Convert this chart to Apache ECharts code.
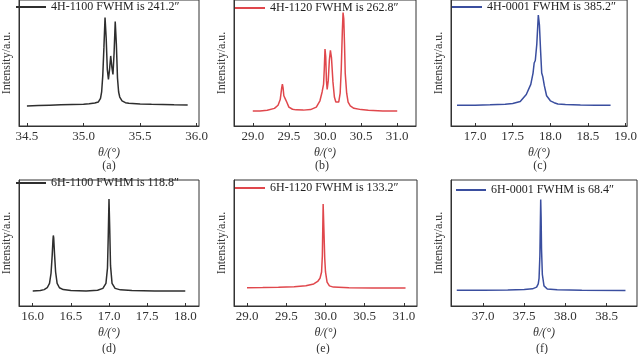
<!DOCTYPE html>
<html>
<head>
<meta charset="utf-8">
<script src="https://cdn.jsdelivr.net/npm/echarts@6/dist/echarts.min.js"></script>
<style>
  html, body { margin: 0; padding: 0; background: #fff; }
  #chart { width: 640px; height: 354px; }
</style>
</head>
<body>
<div id="chart"></div>
<script>
// legend names
const names = [
  '4H-1100 FWHM is 241.2″',
  '4H-1120 FWHM is 262.8″',
  '4H-0001 FWHM is 385.2″',
  '6H-1100 FWHM is 118.8″',
  '6H-1120 FWHM is 133.2″',
  '6H-0001 FWHM is 68.4″'
];
const panelLabels = ['(a)', '(b)', '(c)', '(d)', '(e)', '(f)'];

// tick labels per panel
const ticksA = [34.5, 35.0, 35.5, 36.0];
const ticksB = [29.0, 29.5, 30.0, 30.5, 31.0];
const ticksC = [17.0, 17.5, 18.0, 18.5, 19.0];
const ticksD = [16.0, 16.5, 17.0, 17.5, 18.0];
const ticksE = [29.0, 29.5, 30.0, 30.5, 31.0];
const ticksF = [37.0, 37.5, 38.0, 38.5];

// (a) 4H-1100
const thetaA = [34.50, 34.60, 34.70, 34.80, 34.90, 35.00, 35.05, 35.10, 35.13, 35.15, 35.16, 35.17, 35.18, 35.19, 35.20, 35.21, 35.22, 35.23, 35.24, 35.25, 35.26, 35.27, 35.28, 35.29, 35.30, 35.31, 35.32, 35.34, 35.37, 35.40, 35.50, 35.60, 35.70, 35.80, 35.92];
const intA   = [15.9, 16.2, 16.5, 16.8, 17.0, 17.2, 17.6, 18.2, 19.0, 22.0, 27.0, 40.0, 62.0, 86.0, 70.0, 45.0, 37.0, 45.0, 55.6, 47.0, 41.0, 58.0, 83.0, 65.0, 38.0, 27.0, 23.0, 20.0, 18.5, 18.0, 17.5, 17.2, 17.0, 16.8, 16.7];

// (b) 4H-1120
const thetaB = [29.00, 29.10, 29.20, 29.30, 29.35, 29.38, 29.40, 29.41, 29.42, 29.43, 29.45, 29.47, 29.50, 29.55, 29.60, 29.70, 29.80, 29.88, 29.93, 29.96, 29.98, 29.99, 30.00, 30.01, 30.02, 30.03, 30.045, 30.06, 30.075, 30.09, 30.11, 30.13, 30.15, 30.17, 30.19, 30.21, 30.225, 30.24, 30.25, 30.26, 30.27, 30.28, 30.30, 30.32, 30.35, 30.40, 30.50, 30.60, 30.80, 31.00];
const intB   = [12.0, 12.0, 12.5, 14.0, 16.5, 21.0, 30.0, 33.3, 30.0, 24.0, 21.5, 19.0, 15.0, 13.3, 12.8, 12.6, 13.0, 15.0, 20.0, 27.0, 33.0, 45.0, 61.0, 55.0, 36.0, 29.0, 36.0, 52.0, 60.0, 54.0, 35.0, 23.0, 19.0, 18.0, 19.0, 26.0, 45.0, 75.0, 90.0, 85.0, 65.0, 42.0, 26.0, 19.0, 16.0, 14.0, 13.0, 12.5, 12.0, 12.0];

// (c) 4H-0001
const thetaC = [16.76, 16.90, 17.00, 17.20, 17.40, 17.50, 17.60, 17.68, 17.74, 17.77, 17.785, 17.80, 17.82, 17.84, 17.855, 17.87, 17.885, 17.90, 17.92, 17.95, 18.00, 18.05, 18.10, 18.20, 18.40, 18.60, 18.80];
const intC   = [16.5, 16.5, 16.5, 16.8, 17.2, 17.8, 19.5, 25.0, 33.0, 42.0, 50.0, 52.0, 65.0, 88.0, 80.0, 60.0, 42.0, 39.0, 32.0, 24.0, 20.0, 18.5, 17.5, 17.0, 16.7, 16.5, 16.5];

// (d) 6H-1100
const thetaD = [16.00, 16.10, 16.15, 16.19, 16.22, 16.24, 16.255, 16.265, 16.27, 16.275, 16.285, 16.30, 16.32, 16.35, 16.40, 16.50, 16.70, 16.85, 16.92, 16.96, 16.98, 16.99, 17.00, 17.01, 17.02, 17.04, 17.08, 17.15, 17.30, 17.60, 18.00];
const intD   = [12.0, 12.3, 13.0, 14.5, 18.0, 26.0, 40.0, 52.0, 56.0, 54.0, 42.0, 27.0, 18.0, 14.5, 13.0, 12.3, 12.0, 12.5, 14.0, 18.0, 30.0, 55.0, 85.0, 60.0, 32.0, 18.0, 14.0, 12.8, 12.3, 12.0, 12.0];

// (e) 6H-1120
const thetaE = [29.00, 29.20, 29.40, 29.60, 29.75, 29.85, 29.90, 29.93, 29.95, 29.96, 29.97, 29.98, 29.99, 30.00, 30.02, 30.05, 30.10, 30.30, 30.60, 31.02];
const intE   = [14.5, 14.6, 14.8, 15.2, 16.0, 17.5, 19.5, 22.0, 27.0, 40.0, 81.0, 60.0, 38.0, 27.0, 19.0, 16.0, 15.0, 14.5, 14.3, 14.2];

// (f) 6H-0001
const thetaF = [36.68, 37.00, 37.30, 37.50, 37.60, 37.65, 37.67, 37.68, 37.69, 37.70, 37.705, 37.71, 37.72, 37.74, 37.78, 37.90, 38.20, 38.73];
const intF   = [12.5, 12.5, 12.6, 13.0, 13.6, 15.0, 17.5, 22.0, 40.0, 84.5, 70.0, 45.0, 25.0, 16.0, 13.5, 12.8, 12.5, 12.4];

const colors = ['#2e2e2e', '#e0474c', '#3a4e9f', '#2e2e2e', '#e0474c', '#3a4e9f'];
const curves = [[thetaA, intA], [thetaB, intB], [thetaC, intC], [thetaD, intD], [thetaE, intE], [thetaF, intF]];
const ticks = [ticksA, ticksB, ticksC, ticksD, ticksE, ticksF];
const ranges = [[34.43, 36.02], [28.74, 31.26], [16.68, 19.02], [15.82, 18.18], [28.834, 31.166], [36.61, 38.87]];

// grid boxes: [left, top, width, height]
const boxes = [
  [15, 0, 184, 126], [234, 0, 182, 126], [451, 0, 185, 126],
  [15, 180, 184, 126], [234, 180, 183, 126], [451, 180, 186, 126]
];
const legendPos = [[16, 1], [235, 2], [452, 1], [16, 177], [235, 182], [456, 184]];
const labelPos = [[109, 166], [322, 166], [540, 166], [109, 349], [323, 349], [542, 349]];

const font = 'Liberation Serif';

const chart = echarts.init(document.getElementById('chart'));
chart.setOption({
  animation: false,
  backgroundColor: '#fff',
  grid: boxes.map((b) => ({
    left: b[0], top: b[1], width: b[2], height: b[3],
    show: true, borderColor: '#333', borderWidth: 1
  })),
  xAxis: boxes.map((b, i) => ({
    type: 'value',
    gridIndex: i,
    min: ranges[i][0],
    max: ranges[i][1],
    name: 'θ/(°)',
    nameLocation: 'middle',
    nameGap: 21,
    nameTextStyle: { fontFamily: font, fontSize: 12, fontStyle: 'italic', color: '#333' },
    axisLine: { lineStyle: { color: '#333', width: 1 } },
    axisTick: { inside: true, length: 3, customValues: ticks[i], lineStyle: { color: '#333' } },
    axisLabel: {
      customValues: ticks[i],
      formatter: (v) => v.toFixed(1),
      fontFamily: font, fontSize: 13, color: '#333', margin: 4
    },
    splitLine: { show: false }
  })),
  yAxis: boxes.map((b, i) => ({
    type: 'value',
    gridIndex: i,
    min: 0,
    max: 100,
    name: 'Intensity/a.u.',
    nameLocation: 'middle',
    nameGap: 6,
    nameTextStyle: { fontFamily: font, fontSize: 12, color: '#333' },
    axisLine: { show: true, lineStyle: { color: '#333', width: 1 } },
    axisTick: { show: false },
    axisLabel: { show: false },
    splitLine: { show: false }
  })),
  legend: names.map((n, i) => ({
    data: [n],
    left: legendPos[i][0],
    top: legendPos[i][1],
    padding: 0,
    icon: 'rect',
    itemWidth: 30,
    itemHeight: 2,
    selectedMode: false,
    textStyle: { fontFamily: font, fontSize: 12, color: '#222' }
  })),
  graphic: panelLabels.map((t, i) => ({
    type: 'text',
    x: labelPos[i][0],
    y: labelPos[i][1],
    style: {
      text: t, fontFamily: font, fontSize: 12, fill: '#333',
      align: 'center', verticalAlign: 'middle'
    }
  })),
  series: curves.map((c, i) => ({
    type: 'line',
    name: names[i],
    xAxisIndex: i,
    yAxisIndex: i,
    showSymbol: false,
    symbol: 'none',
    color: colors[i],
    lineStyle: { width: 1.5, color: colors[i] },
    data: c[0].map((x, k) => [x, c[1][k]])
  }))
});
</script>
</body>
</html>
